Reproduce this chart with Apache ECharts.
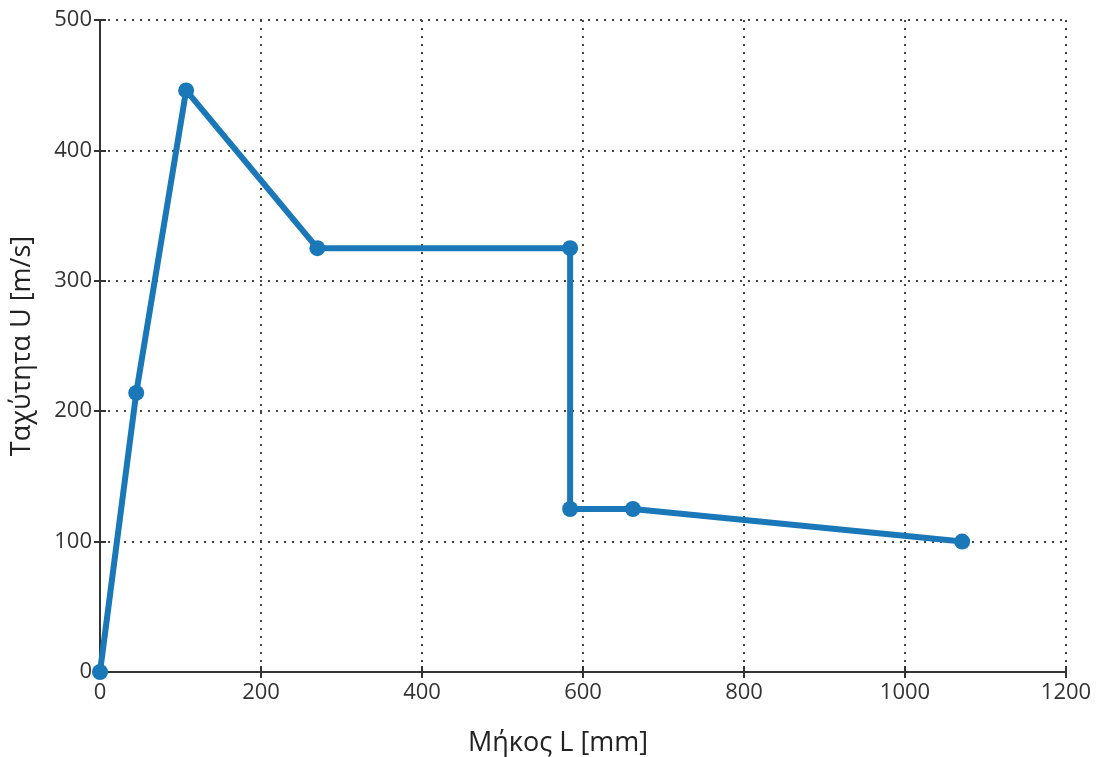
<!DOCTYPE html>
<html>
<head>
<meta charset="utf-8">
<script src="https://cdn.jsdelivr.net/npm/echarts@6/dist/echarts.min.js"></script>
<style>html,body{margin:0;padding:0;background:#fff;}#c{width:1098px;height:757px;}</style>
</head>
<body>
<div id="c"></div>
<script>
const lengthsMm = [0, 45, 107, 270, 584, 584, 662, 1071];
const speeds = [0, 214, 446, 325, 325, 125, 125, 100];
const xTicks = [0, 200, 400, 600, 800, 1000, 1200];
const yTicks = [0, 100, 200, 300, 400, 500];
const xName = 'Μήκος L [mm]';
const yName = 'Ταχύτητα U [m/s]';

const font = 'Open Sans, Noto Sans, sans-serif';
const chart = echarts.init(document.getElementById('c'));
const axisLineStyle = {show: true, lineStyle: {color: '#333', width: 2}};
const tick = {show: true, inside: true, length: 6, lineStyle: {color: '#333', width: 2}};
const grid = {show: true, lineStyle: {type: [2, 6], color: '#444', width: 2}};
chart.setOption({
  animation: false,
  grid: {left: 100, right: 32, top: 20, bottom: 85, outerBoundsMode: 'none', containLabel: false},
  xAxis: [{
    type: 'value', min: xTicks[0], max: xTicks[xTicks.length - 1], interval: xTicks[1] - xTicks[0],
    name: xName, nameLocation: 'middle', nameGap: 58,
    nameTextStyle: {fontFamily: font, fontSize: 27, color: '#222', padding: [0, 50, 0, 0]},
    axisLine: axisLineStyle, axisTick: tick,
    axisLabel: {fontFamily: font, fontSize: 22, color: '#333', margin: 10, formatter: v => String(v)},
    splitLine: grid
  }, {
    type: 'value', position: 'top', min: xTicks[0], max: xTicks[xTicks.length - 1], interval: xTicks[1] - xTicks[0],
    axisLine: axisLineStyle, axisTick: tick,
    axisLabel: {show: false}, splitLine: {show: false}
  }],
  yAxis: [{
    type: 'value', min: yTicks[0], max: yTicks[yTicks.length - 1], interval: yTicks[1] - yTicks[0],
    name: yName, nameLocation: 'middle', nameGap: 64, nameRotate: 90,
    nameTextStyle: {fontFamily: font, fontSize: 27, color: '#222'},
    axisLine: axisLineStyle, axisTick: tick,
    axisLabel: {fontFamily: font, fontSize: 22, color: '#333', margin: 8, formatter: v => String(v)},
    splitLine: grid
  }, {
    type: 'value', position: 'right', min: yTicks[0], max: yTicks[yTicks.length - 1], interval: yTicks[1] - yTicks[0],
    axisLine: axisLineStyle, axisTick: tick,
    axisLabel: {show: false}, splitLine: {show: false}
  }],
  series: [{
    type: 'line',
    data: lengthsMm.map((x, i) => [x, speeds[i]]),
    symbol: 'circle', symbolSize: 16,
    lineStyle: {color: '#1a78b8', width: 6},
    itemStyle: {color: '#1a78b8'},
    clip: false
  }]
});
</script>
</body>
</html>
